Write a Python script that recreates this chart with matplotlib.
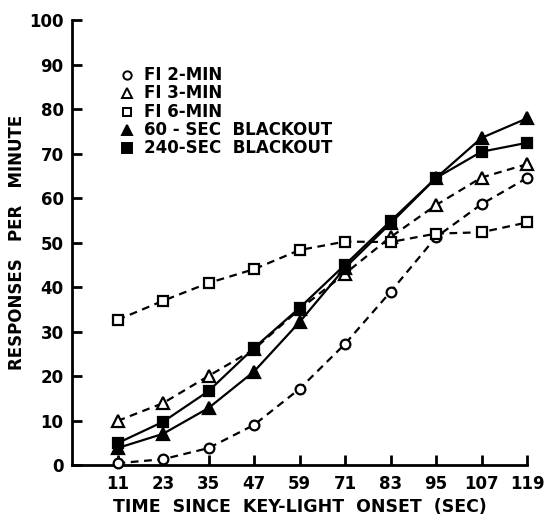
import matplotlib
matplotlib.use("Agg")
import matplotlib.pyplot as plt

# Time since key-light onset (sec)
times = [11, 23, 35, 47, 59, 71, 83, 95, 107, 119]

# Responses per minute for each condition
fi_2min = [0.4, 1.3, 3.8, 9.0, 17.1, 27.2, 38.9, 51.2, 58.6, 64.5]
fi_3min = [9.9, 13.9, 20.0, 26.0, 35.0, 43.0, 51.2, 58.4, 64.6, 67.6]
fi_6min = [32.6, 36.9, 40.9, 44.0, 48.3, 50.2, 50.1, 52.0, 52.3, 54.5]
blackout_60 = [3.8, 7.0, 12.8, 21.0, 32.1, 44.3, 54.3, 64.5, 73.5, 77.9]
blackout_240 = [4.9, 9.7, 16.6, 26.3, 35.3, 45.0, 54.8, 64.5, 70.4, 72.4]

labels = ["FI 2-MIN", "FI 3-MIN", "FI 6-MIN", "60 - SEC  BLACKOUT", "240-SEC  BLACKOUT"]
y_ticks = [0, 10, 20, 30, 40, 50, 60, 70, 80, 90, 100]

plt.rcParams['font.family'] = ['DejaVu Sans']
plt.rcParams['font.weight'] = 'bold'

W, H = 544, 516
fig = plt.figure(figsize=(W / 100, H / 100), dpi=100)
ax_left, ax_right, ax_top, ax_bottom = 72, 527, 20, 465
ax = fig.add_axes([ax_left / W, 1 - ax_bottom / H, (ax_right - ax_left) / W,
                   (ax_bottom - ax_top) / H])

series = [
    (fi_2min, 'o', 'white', (0, (3.5, 2.5)), 7),
    (fi_3min, '^', 'white', (0, (3.5, 2.5)), 8),
    (fi_6min, 's', 'white', (0, (3.5, 2.5)), 7),
    (blackout_60, '^', 'black', '-', 8),
    (blackout_240, 's', 'black', '-', 7.5),
]

for vals, mk, fc, ls, ms in series:
    ax.plot(times, vals, color='black', linestyle=ls, linewidth=1.6,
            marker=mk, markersize=ms, markerfacecolor=fc,
            markeredgecolor='black', markeredgewidth=1.6, clip_on=False, zorder=3)

ax.set_xlim(-1, 119)
ax.set_ylim(0, 100)
ax.set_xticks(times)
ax.set_xticklabels([str(t) for t in times])
ax.set_yticks(y_ticks)
ax.spines['top'].set_visible(False)
ax.spines['right'].set_visible(False)
for s in ('left', 'bottom'):
    ax.spines[s].set_linewidth(2)
ax.tick_params(axis='both', direction='in', length=7, width=2, labelsize=12)
ax.tick_params(axis='y', pad=6)
ax.tick_params(axis='x', pad=7.5)

ax_w = ax_right - ax_left
ax_h = ax_bottom - ax_top
ax.set_ylabel("RESPONSES   PER   MINUTE", fontsize=12, fontweight='bold')
ax.yaxis.set_label_coords((26 - ax_left) / ax_w, 0.5)
ax.set_xlabel("TIME  SINCE  KEY-LIGHT  ONSET  (SEC)", fontsize=12.5, fontweight='bold')
ax.xaxis.set_label_coords(0.5, (ax_bottom - 498) / ax_h)

# Key in the upper left of the plot area
key_x_mark = 127
key_x_text = 144
key_rows = [75, 93, 112, 130, 148]
for (vals, mk, fc, ls, ms), lab, yy in zip(series, labels, key_rows):
    fx, fy = key_x_mark / W, 1 - yy / H
    fig.lines.append(plt.Line2D([fx], [fy], marker=mk, markersize=ms - 1,
                                markerfacecolor=fc, markeredgecolor='black',
                                markeredgewidth=1.4, linestyle='none',
                                transform=fig.transFigure))
    fig.text(key_x_text / W, fy, lab, fontsize=12, fontweight='bold',
             va='center', ha='left')

fig.savefig("out.png", dpi=100)
